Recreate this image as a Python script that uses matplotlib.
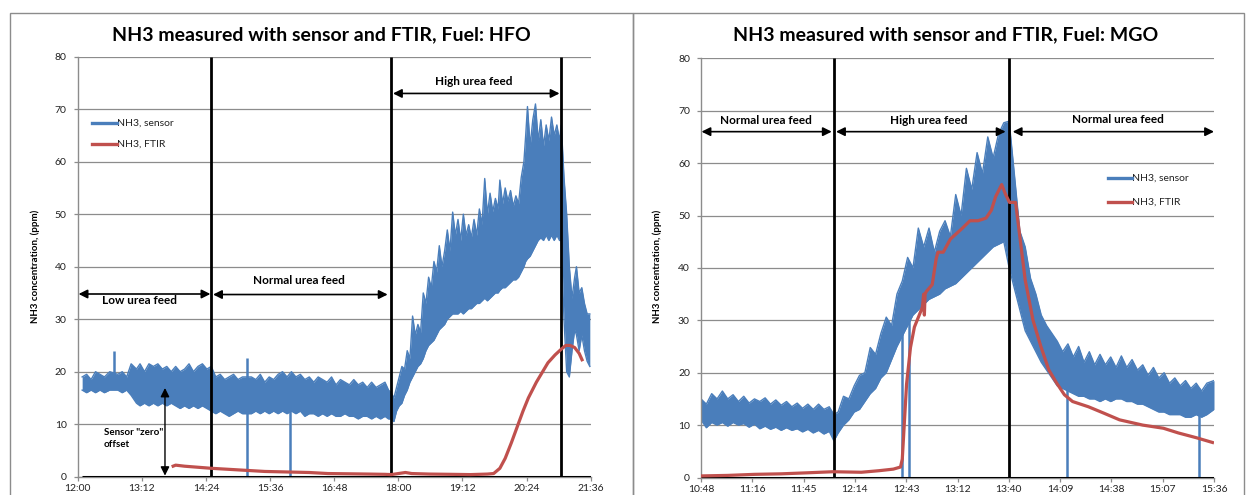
import matplotlib
matplotlib.use("Agg")
import matplotlib.pyplot as plt
from matplotlib.patches import Rectangle

plt.rcParams['font.family'] = ['Lato', 'DejaVu Sans']

# ---------------- data: HFO (minutes after 12:00) ----------------
# sensor envelope: (time, lower edge, upper edge)
hfo_sensor_rows = [
    (5, 16.5, 19), (10, 16, 19.5), (15, 16.5, 18.5), (20, 16, 20), (25, 16.5, 19.5),
    (30, 16, 19), (36, 16.5, 20), (45, 16.5, 19.5), (50, 16, 20), (55, 16.5, 19),
    (60, 15.5, 21.5), (66, 14, 20.5), (70, 13.5, 21.5), (75, 14, 20), (80, 13.5, 21.5),
    (85, 14, 21), (90, 13.5, 21.5), (95, 14, 20.5), (100, 13.5, 21), (105, 14, 20),
    (110, 13.5, 21), (115, 13, 20), (120, 13.5, 20.5), (125, 13, 21.5), (130, 13.5, 20),
    (135, 13, 21), (140, 13.5, 21.5), (145, 13, 20.5), (150, 12.5, 21), (155, 12, 19),
    (160, 12.5, 19.5), (165, 12, 18.5), (170, 11.5, 19), (175, 12, 19.5), (180, 12.5, 18.5),
    (185, 12, 19), (195, 12, 19), (200, 12.5, 18.5), (205, 12, 19.5), (210, 12.5, 18),
    (215, 12, 19), (220, 12.5, 18.5), (225, 12, 19.5), (230, 12.5, 20), (235, 12, 19),
    (240, 12.5, 20), (245, 12, 19), (250, 12.5, 19.5), (255, 11.5, 18.5), (260, 12, 19),
    (265, 12, 18), (270, 11.5, 19), (275, 12, 18.5), (280, 11.5, 18), (285, 12, 19),
    (290, 11.5, 17.5), (295, 11.5, 18.5), (300, 12, 18), (305, 11.5, 17.5), (310, 11.5, 18.5),
    (315, 11, 17.5), (320, 11.5, 18), (325, 11.5, 17), (330, 11, 18), (335, 11.5, 17),
    (340, 11, 17.5), (345, 11.5, 18), (349, 11, 16.5), (352, 11, 16), (355, 10.5, 15),
    (358, 12.5, 17), (361, 13.5, 19), (364, 14, 21), (367, 15.5, 20.5), (370, 16.5, 24),
    (373, 18, 22.5), (376, 19, 30.6), (379, 20, 27), (382, 21, 29), (385, 21.5, 27.5),
    (388, 22.5, 35), (391, 24, 33), (394, 25, 38), (397, 25.5, 36), (400, 26, 41),
    (403, 27, 39), (406, 28, 44), (409, 28.5, 40), (412, 29, 43), (415, 30, 47),
    (418, 30.5, 43), (421, 31, 50.4), (424, 31, 46), (427, 31, 49), (430, 31.5, 45),
    (433, 31, 50), (436, 31.5, 46), (439, 32, 48), (442, 32, 45.5), (445, 32.5, 49),
    (448, 33, 46), (451, 33, 51), (454, 33.5, 48), (457, 34, 56.8), (460, 33.5, 50),
    (463, 34, 54), (466, 34.5, 50.5), (469, 35, 53), (472, 35, 51), (474, 35.5, 56.5),
    (477, 36, 52), (480, 36, 55), (483, 36.5, 52.5), (486, 37, 54.5), (489, 37.5, 51.5),
    (492, 37.5, 53.5), (495, 38, 52), (498, 39, 57), (501, 40, 60), (503, 41, 65),
    (505, 41.5, 70.5), (508, 42, 63), (511, 43, 68), (514, 44, 71), (517, 45, 64),
    (520, 45.5, 68), (523, 45, 63), (526, 46, 67), (529, 45, 64), (532, 46, 68.5),
    (535, 45, 65), (538, 46, 67), (541, 45, 64), (543, 45, 67), (546, 30, 57),
    (549, 20, 50), (552, 19, 40), (555, 24, 34), (558, 28, 38), (560, 27, 40),
    (563, 24, 35), (566, 27, 36), (569, 24, 33), (572, 22, 31), (575, 21, 31),
]
hfo_t = [r[0] for r in hfo_sensor_rows]
hfo_lo = [r[1] for r in hfo_sensor_rows]
hfo_hi = [r[2] for r in hfo_sensor_rows]

hfo_spike_t = [41, 190, 238]
hfo_spike_lo = [18, 0, 0]
hfo_spike_hi = [24, 22.6, 19]

hfo_ftir_t = [105.5, 110, 120, 135, 150, 170, 190, 210, 235, 260, 281, 305, 327, 345, 352,
              360, 368, 375, 395, 420, 441, 460, 467, 474, 480, 487, 495, 500, 506, 515, 528,
              536, 543, 548, 553, 558, 563, 567]
hfo_ftir = [1.9, 2.2, 2.0, 1.8, 1.6, 1.4, 1.2, 1.0, 0.9, 0.8, 0.6, 0.55, 0.5, 0.45, 0.4,
            0.6, 0.8, 0.6, 0.5, 0.45, 0.4, 0.5, 0.6, 1.6, 3.5, 6.5, 10.2, 12.5, 15, 18, 21.7,
            23.2, 24.3, 25, 25, 24.6, 23.5, 22]

hfo_phase_t = [150, 352, 543]
hfo_ticks = ['12:00', '13:12', '14:24', '15:36', '16:48', '18:00', '19:12', '20:24', '21:36']

# ---------------- data: MGO (minutes after 10:48) ----------------
mgo_sensor_rows = [
    (0, 11, 15), (3, 9.5, 14), (6, 10.5, 16), (9, 10, 15), (12, 10.5, 16.5),
    (15, 9.8, 15), (18, 10.5, 15.8), (21, 10, 14.5), (24, 10.3, 15.5), (27, 9.6, 14.2),
    (30, 10.2, 15), (33, 9.3, 14.5), (36, 9.8, 15.2), (39, 9.2, 14), (42, 9.6, 14.8),
    (45, 9, 13.8), (48, 9.5, 14.5), (51, 9, 13.5), (54, 9.3, 14.2), (57, 8.7, 13.2),
    (60, 9.2, 14), (63, 8.5, 13), (66, 9, 14), (69, 8.3, 13), (72, 8.8, 13.5),
    (74.6, 7, 12), (77, 8.5, 12.5), (80, 10, 15.5), (83, 11, 15), (86, 12.5, 17.5),
    (89, 13, 19.5), (92, 14.5, 20), (95, 16, 24.8), (98, 17, 23.5), (101, 19, 27.5),
    (104, 20, 30.6), (107, 22.5, 29), (110, 25, 35), (113, 27, 37.5), (116, 29, 42),
    (119, 31, 40), (122, 32, 47.6), (125, 33, 44), (128, 34, 47.6), (131, 34.5, 43),
    (134, 35, 47), (137, 36, 49), (140, 36.5, 46), (143, 37, 54), (146, 38, 50),
    (149, 39, 59), (152, 40, 55), (155, 41, 62), (158, 42, 58), (161, 43, 65),
    (164, 44, 61), (167, 44.5, 65.5), (170, 45, 67.7), (173, 40, 68), (176, 36, 57.6),
    (179, 32, 47), (182, 28, 44), (185, 26, 38), (188, 24, 35), (191, 22, 31),
    (194, 20.5, 29), (197, 19, 27.5), (200, 17.5, 26), (203, 17, 24), (206, 16.5, 25.5),
    (209, 16, 23), (212, 15.5, 25), (215, 15.5, 22), (218, 15, 24), (221, 15, 21.5),
    (224, 14.5, 23.5), (227, 15, 21.5), (230, 14.5, 23), (233, 15, 21), (236, 15, 23.2),
    (239, 14.5, 21), (242, 14.5, 22.5), (245, 14, 20.5), (248, 14, 21.5), (251, 13.5, 19.5),
    (254, 13, 21), (257, 12.5, 19), (260, 12.5, 20), (263, 12, 18), (266, 12, 19),
    (269, 12, 17.5), (272, 11.5, 18.5), (275, 11.5, 17), (278, 12, 18), (281, 11.5, 16.5),
    (284, 12, 18), (288, 13, 18.5),
]
mgo_t = [r[0] for r in mgo_sensor_rows]
mgo_lo = [r[1] for r in mgo_sensor_rows]
mgo_hi = [r[2] for r in mgo_sensor_rows]

mgo_spike_t = [112.7, 116.9, 205.3, 279.6]
mgo_spike_lo = [0, 0, 0, 0]
mgo_spike_hi = [36, 40, 25, 17]

mgo_ftir_t = [0, 15, 30, 45, 60, 74, 90, 100, 108, 112, 113, 115.4, 117.6, 119.8, 124.3,
              125.0, 125.4, 125.8, 126.5, 129.8, 132, 133, 136, 140, 146.5, 151, 155.5, 160,
              163, 165.4, 168.8, 171, 173.2, 176.6, 178.8, 182, 186.4, 190.8, 195.3, 199.7,
              204, 208.6, 217.5, 226, 235, 248, 259.6, 268, 278, 288]
mgo_ftir = [0.3, 0.4, 0.6, 0.7, 0.9, 1.1, 1.0, 1.3, 1.6, 2.0, 3.5, 17.8, 24.8, 28.7, 32.5,
            35, 31, 35, 35.5, 36.8, 41.7, 43, 43, 45.5, 47.5, 49, 49, 49.5, 51, 53.6, 55.9,
            54, 52.5, 52.5, 46.5, 37.7, 30, 25, 20.5, 18, 15.8, 14.5, 13.5, 12.3, 11, 10, 9.4,
            8.5, 7.6, 6.6]

mgo_phase_t = [74.6, 173.1]
mgo_ticks = ['10:48', '11:16', '11:45', '12:14', '12:43', '13:12', '13:40', '14:09',
             '14:38', '15:07', '15:36']

BLUE = '#4a7ebb'
RED = '#c0504d'
GRID = '#8c8c8c'
W, H = 1250, 495

fig = plt.figure(figsize=(W / 100, H / 100), dpi=100)


def fx(px):
    return px / W


def fy(py):
    return 1 - py / H


# panel frames
for x0, x1 in [(9.5, 633), (633, 1244)]:
    fig.add_artist(Rectangle((fx(x0), fy(520)), fx(x1 - x0), (520 - 12.7) / H,
                             transform=fig.transFigure, fill=False, edgecolor='#8c8c8c',
                             lw=1.0))


def style_axes(ax, xmax, ticklabels):
    ax.set_xlim(0, xmax)
    ax.set_ylim(0, 80)
    n = len(ticklabels) - 1
    ax.set_xticks([xmax * i / n for i in range(n + 1)])
    ax.set_xticklabels(ticklabels)
    ax.set_yticks(range(0, 81, 10))
    for s in ['top', 'right']:
        ax.spines[s].set_visible(False)
    for s in ['left', 'bottom']:
        ax.spines[s].set_color(GRID)
        ax.spines[s].set_linewidth(1.0)
    ax.grid(axis='y', color=GRID, lw=0.9)
    ax.set_axisbelow(True)
    ax.tick_params(axis='both', length=3, width=0.9, color=GRID, labelsize=7.5,
                   labelcolor='#222222', pad=5)
    ax.tick_params(axis='x', pad=2.5)
    ax.set_facecolor('none')


def arrow(ax, x0, x1, y):
    ax.annotate('', xy=(x1, y), xytext=(x0, y),
                arrowprops=dict(arrowstyle='<|-|>', color='black', lw=1.2,
                                mutation_scale=13, shrinkA=0, shrinkB=0), zorder=6)


def legend(ax, x, y0, y1):
    ax.plot([x[0], x[1]], [y0, y0], color=BLUE, lw=2.4, zorder=7)
    ax.plot([x[0], x[1]], [y1, y1], color=RED, lw=2.4, zorder=7)
    ax.text(x[1], y0, 'NH3, sensor', fontsize=7.5, va='center', ha='left', color='#222222')
    ax.text(x[1], y1, 'NH3, FTIR', fontsize=7.5, va='center', ha='left', color='#222222')


def panel(ax, t, lo, hi, st, slo, shi, ft, fv, phases, xmax, ticks):
    style_axes(ax, xmax, ticks)
    ax.fill_between(t, lo, hi, color=BLUE, lw=0, zorder=2)
    ax.plot(t, lo, color=BLUE, lw=1.0, zorder=2)
    ax.plot(t, hi, color=BLUE, lw=1.0, zorder=2)
    ax.vlines(st, slo, shi, color=BLUE, lw=1.8, zorder=2)
    ax.hlines(0, t[0], xmax, color='black', lw=2.2, zorder=3)
    ax.vlines(phases, 0, 80, color='black', lw=2.0, zorder=4)
    ax.plot(ft, fv, color=RED, lw=2.3, zorder=5, solid_capstyle='butt')


# ---------------- left: HFO ----------------
axL = fig.add_axes([fx(77.7), fy(476.7), fx(513), (476.7 - 56.7) / H])
panel(axL, hfo_t, hfo_lo, hfo_hi, hfo_spike_t, hfo_spike_lo, hfo_spike_hi,
      hfo_ftir_t, hfo_ftir, hfo_phase_t, 576, hfo_ticks)
arrow(axL, 1, 149, 34.8)
arrow(axL, 152, 348, 34.7)
arrow(axL, 354, 541, 73.0)
axL.text(69, 33.5, 'Low urea feed', fontsize=8.5, fontweight='bold', ha='center', va='center')
axL.text(248, 37.4, 'Normal urea feed', fontsize=8.5, fontweight='bold', ha='center', va='center')
axL.text(445, 75.3, 'High urea feed', fontsize=8.5, fontweight='bold', ha='center', va='center')
axL.annotate('', xy=(98, 0.2), xytext=(98, 16.9),
             arrowprops=dict(arrowstyle='<|-|>', color='black', lw=1.0,
                             mutation_scale=13, shrinkA=0, shrinkB=0), zorder=6)
axL.text(29.5, 7.3, 'Sensor "zero"\noffset', fontsize=7, fontweight='bold', ha='left',
         va='center', linespacing=1.5)
legend(axL, (16.4, 44.5), 67.3, 63.3)

# ---------------- right: MGO ----------------
axR = fig.add_axes([fx(701), fy(477.5), fx(513), (477.5 - 58.3) / H])
panel(axR, mgo_t, mgo_lo, mgo_hi, mgo_spike_t, mgo_spike_lo, mgo_spike_hi,
      mgo_ftir_t, mgo_ftir, mgo_phase_t, 288, mgo_ticks)
arrow(axR, 0.3, 73.4, 66.0)
arrow(axR, 75.8, 171, 66.0)
arrow(axR, 175, 288, 66.0)
axR.text(36.7, 68.1, 'Normal urea feed', fontsize=8.5, fontweight='bold', ha='center', va='center')
axR.text(127.7, 68.1, 'High urea feed', fontsize=8.5, fontweight='bold', ha='center', va='center')
axR.text(234, 68.4, 'Normal urea feed', fontsize=8.5, fontweight='bold', ha='center', va='center')
legend(axR, (228.5, 242), 57.2, 52.5)

# titles and y labels
fig.text(fx(321), fy(35), 'NH3 measured with sensor and FTIR, Fuel: HFO', fontsize=14,
         fontweight='bold', ha='center', va='center')
fig.text(fx(945.5), fy(35), 'NH3 measured with sensor and FTIR, Fuel: MGO', fontsize=14,
         fontweight='bold', ha='center', va='center')
for xp in (35, 657.7):
    fig.text(fx(xp), fy(266.7), 'NH3 concentration, (ppm)', fontsize=7, fontweight='bold',
             rotation=90, ha='center', va='center')

fig.savefig('out.png', dpi=100)
